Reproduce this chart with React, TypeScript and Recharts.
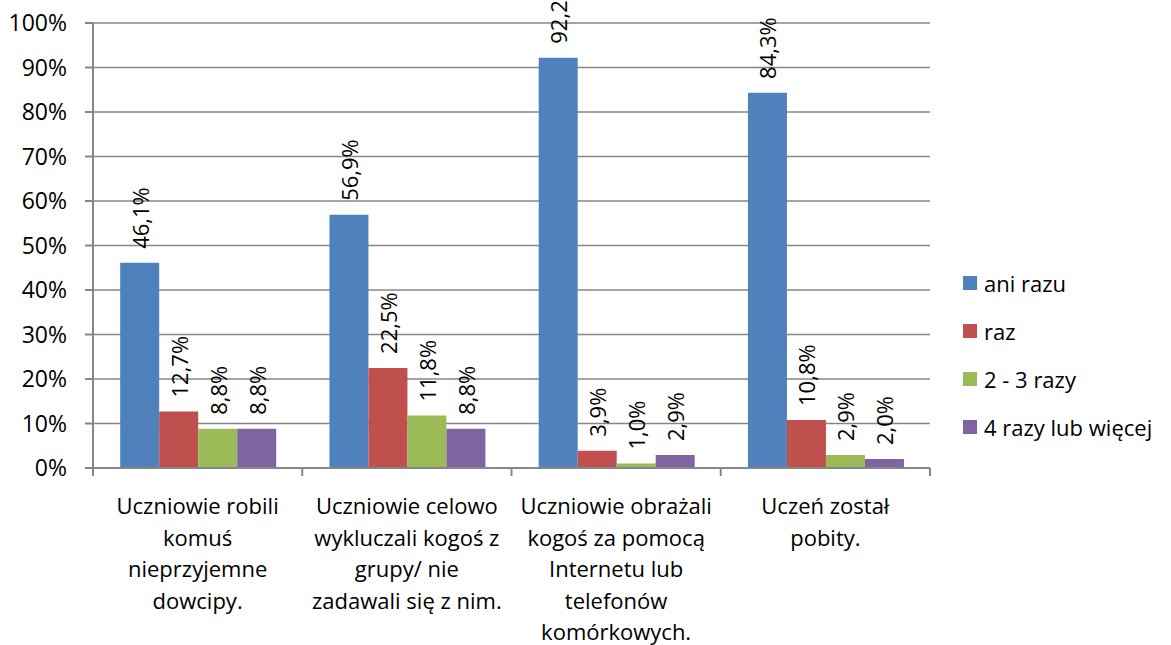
import React from "react";
import { BarChart, Bar, XAxis, YAxis, CartesianGrid, Legend, LabelList } from "recharts";

const categories = [
  "Uczniowie robili komuś nieprzyjemne dowcipy.",
  "Uczniowie celowo wykluczali kogoś z grupy/ nie zadawali się z nim.",
  "Uczniowie obrażali kogoś za pomocą Internetu lub telefonów komórkowych.",
  "Uczeń został pobity.",
];
const categoryLines = [
  ["Uczniowie robili", "komuś", "nieprzyjemne", "dowcipy."],
  ["Uczniowie celowo", "wykluczali kogoś z", "grupy/ nie", "zadawali się z nim."],
  ["Uczniowie obrażali", "kogoś za pomocą", "Internetu lub", "telefonów", "komórkowych."],
  ["Uczeń został", "pobity."],
];
const aniRazu = [46.1, 56.9, 92.2, 84.3];
const raz = [12.7, 22.5, 3.9, 10.8];
const dwaTrzyRazy = [8.8, 11.8, 1.0, 2.9];
const czteryLubWiecej = [8.8, 8.8, 2.9, 2.0];
const yTicks = [0, 10, 20, 30, 40, 50, 60, 70, 80, 90, 100];

const series = [
  { key: "aniRazu", name: "ani razu", color: "#4F81BD" },
  { key: "raz", name: "raz", color: "#C0504D" },
  { key: "dwaTrzy", name: "2 - 3 razy", color: "#9BBB59" },
  { key: "cztery", name: "4 razy lub więcej", color: "#8064A2" },
];

const data = categories.map((c, i) => ({
  name: c,
  aniRazu: aniRazu[i],
  raz: raz[i],
  dwaTrzy: dwaTrzyRazy[i],
  cztery: czteryLubWiecej[i],
}));

const FONT = "'Open Sans', sans-serif";
const W = 1171;
const H = 645;
const margin = { top: 23, right: 241, left: 0, bottom: 0 };
const yAxisW = 93;
const band = (W - margin.right - margin.left - yAxisW) / categories.length;
const AXIS = "#868686";

const fmt = (v: number) => v.toFixed(1).replace(".", ",") + "%";

function XTick(props: any) {
  const { x, y, index } = props;
  const lines = categoryLines[index] || [];
  return (
    <g>
      <line x1={x - band / 2} x2={x - band / 2} y1={y} y2={y + 8} stroke={AXIS} strokeWidth={2} />
      {index === categories.length - 1 && (
        <line x1={x + band / 2} x2={x + band / 2} y1={y} y2={y + 8} stroke={AXIS} strokeWidth={2} />
      )}
      <text x={x} y={y + 37} textAnchor="middle" dominantBaseline="central" fontFamily={FONT} fontSize={22} fill="#000">
        {lines.map((l, i) => (
          <tspan key={i} x={x} dy={i === 0 ? 0 : 31.5}>
            {l}
          </tspan>
        ))}
      </text>
    </g>
  );
}

function BarLabel(props: any) {
  const { x, y, width, value } = props;
  const cx = x + width / 2;
  const cy = y - 14;
  return (
    <text
      x={cx}
      y={cy}
      transform={`rotate(-90, ${cx}, ${cy})`}
      textAnchor="start"
      dominantBaseline="central"
      fontFamily={FONT}
      fontSize={22}
      fill="#000"
    >
      {fmt(value)}
    </text>
  );
}

function LegendBox() {
  return (
    <div style={{ fontFamily: FONT, fontSize: 22, color: "#000" }}>
      {series.map((s) => (
        <div key={s.key} style={{ display: "flex", alignItems: "center", height: 48 }}>
          <span style={{ width: 14, height: 14, background: s.color, marginRight: 7, display: "inline-block" }} />
          <span style={{ whiteSpace: "nowrap" }}>{s.name}</span>
        </div>
      ))}
    </div>
  );
}

export default function App() {
  return (
    <div style={{ position: "absolute", left: 0, top: 0, background: "#fff" }}>
      <BarChart width={W} height={H} data={data} margin={margin} barCategoryGap="13%" barGap={0}>
        <CartesianGrid vertical={false} stroke={AXIS} strokeWidth={1.5} />
        <XAxis
          dataKey="name"
          height={H - margin.top - 445}
          interval={0}
          tickLine={false}
          tickSize={0}
          tickMargin={0}
          axisLine={{ stroke: AXIS, strokeWidth: 2 }}
          tick={<XTick />}
        />
        <YAxis
          width={yAxisW}
          domain={[0, 100]}
          ticks={yTicks}
          interval={0}
          tickSize={8}
          tickMargin={18}
          tickFormatter={(v) => v + "%"}
          axisLine={{ stroke: AXIS, strokeWidth: 2 }}
          tickLine={{ stroke: AXIS, strokeWidth: 2 }}
          tick={{ fontFamily: FONT, fontSize: 23, fill: "#000" }}
        />
        <Legend
          layout="horizontal"
          verticalAlign="middle"
          align="center"
          content={<LegendBox />}
          wrapperStyle={{ position: "absolute", left: 963, top: 259, width: 208 }}
        />
        {series.map((s) => (
          <Bar key={s.key} dataKey={s.key} name={s.name} fill={s.color} isAnimationActive={false}>
            <LabelList dataKey={s.key} content={<BarLabel />} />
          </Bar>
        ))}
      </BarChart>
    </div>
  );
}
